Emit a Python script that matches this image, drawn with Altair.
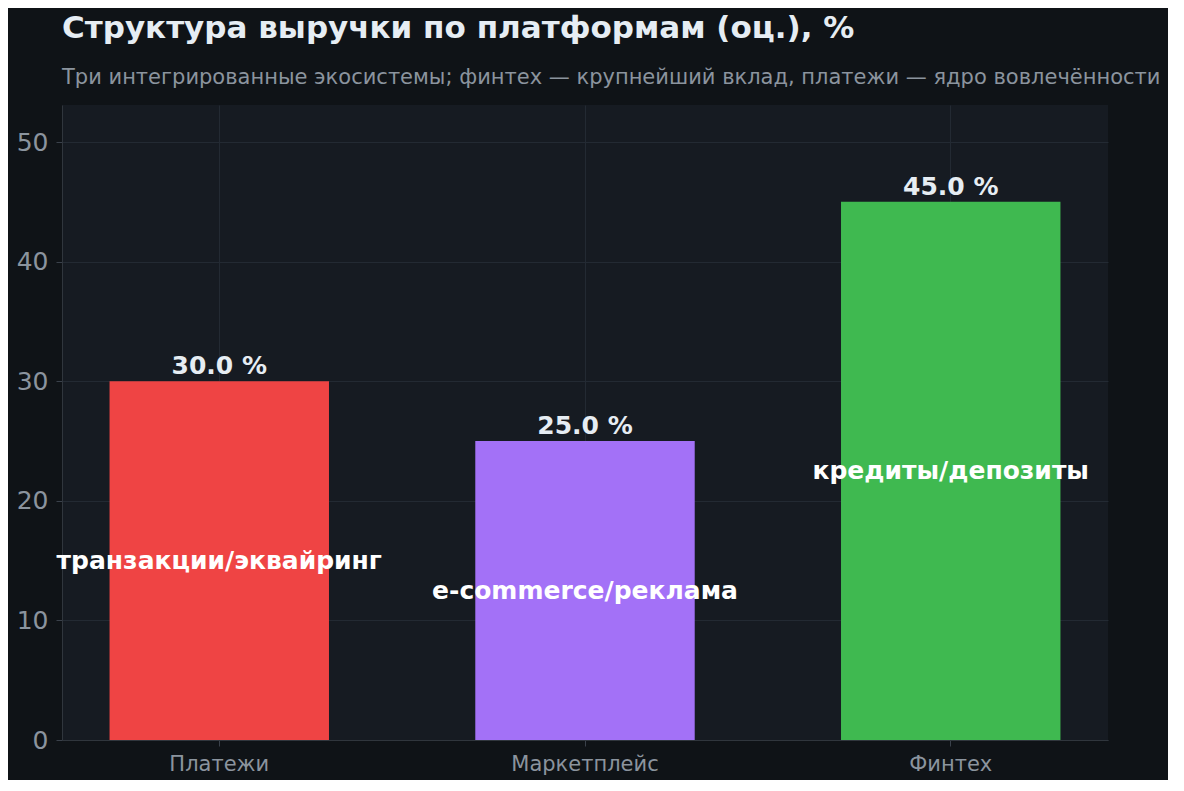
import altair as alt
import pandas as pd

# data
platforms = ["Платежи", "Маркетплейс", "Финтех"]
shares = [30.0, 25.0, 45.0]
drivers = ["транзакции/эквайринг", "e-commerce/реклама", "кредиты/депозиты"]
bar_colors = ["#ef4444", "#a371f7", "#3fb950"]

df = pd.DataFrame({"platform": platforms, "share": shares, "driver": drivers})

FONT = "DejaVu Sans"
BG = "#0f1317"
PLOT_BG = "#161b22"
GRID = "#232a33"
MUTED = "#8b949e"
TEXT = "#e6edf3"

x_enc = alt.X(
    "platform:N",
    sort=platforms,
    title=None,
    scale=alt.Scale(paddingInner=0.4, paddingOuter=0.13),
    axis=alt.Axis(
        labelAngle=0,
        labelFontSize=21,
        labelColor=MUTED,
        labelPadding=7,
        tickColor="#3a414b",
        tickSize=6,
        domainColor="#30363d",
        grid=True,
        gridColor=GRID,
        bandPosition=0.5,
    ),
)
y_scale = alt.Scale(domain=[0, 53.1], nice=False)

base = alt.Chart(df).encode(x=x_enc)

bars = base.mark_bar().encode(
    y=alt.Y(
        "share:Q",
        scale=y_scale,
        title=None,
        axis=alt.Axis(
            values=[0, 10, 20, 30, 40, 50],
            labelFontSize=25,
            labelColor=MUTED,
            labelPadding=8,
            tickColor="#3a414b",
            tickSize=6,
            domainColor="#30363d",
            gridColor=GRID,
        ),
    ),
    color=alt.Color(
        "platform:N", scale=alt.Scale(domain=platforms, range=bar_colors), legend=None
    ),
)

values = (
    base.transform_calculate(lbl="format(datum.share, '.1f') + ' %'")
    .mark_text(font=FONT, fontSize=25, fontWeight="bold", color=TEXT, baseline="bottom", dy=-2)
    .encode(y=alt.Y("share:Q", scale=y_scale), text="lbl:N")
)

inside = (
    base.transform_calculate(mid="datum.share / 2")
    .mark_text(font=FONT, fontSize=25, fontWeight="bold", color="#ffffff", baseline="middle")
    .encode(y=alt.Y("mid:Q", scale=y_scale), text="driver:N")
)

chart = (
    alt.layer(bars, values, inside)
    .properties(
        width=1046,
        height=635,
        background=BG,
        padding={"left": 54, "top": 97, "right": 60, "bottom": 40},
        autosize=alt.AutoSizeParams(type="none"),
        title=alt.TitleParams(
            text="Структура выручки по платформам (оц.), %",
            subtitle="Три интегрированные экосистемы; финтех — крупнейший вклад, платежи — ядро вовлечённости",
            anchor="start",
            frame="group",
            font=FONT,
            fontSize=31,
            fontWeight="bold",
            color=TEXT,
            subtitleFont=FONT,
            subtitleFontSize=21,
            subtitleColor=MUTED,
            subtitlePadding=22,
            offset=16,
        ),
    )
    .configure_view(fill=PLOT_BG, stroke=None)
    .configure_axis(labelFont=FONT)
)

chart.save("out.html", embed_options={"renderer": "svg", "actions": False})
